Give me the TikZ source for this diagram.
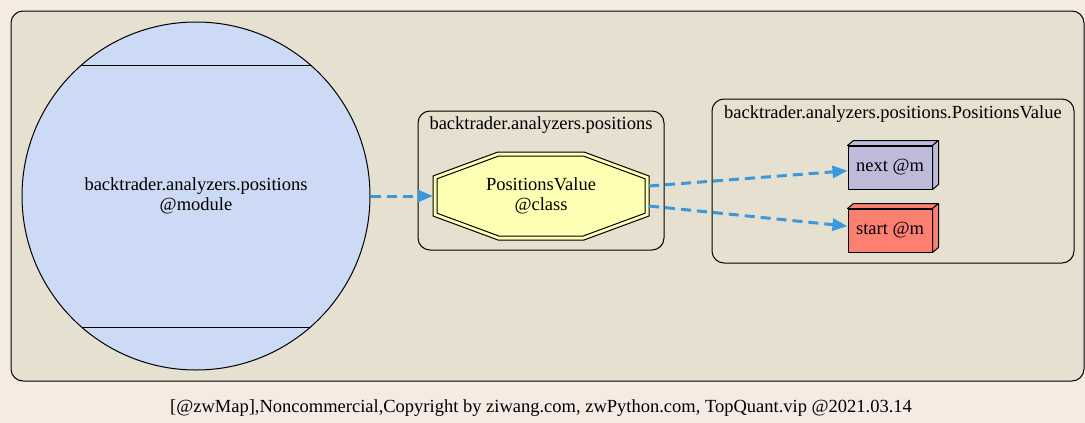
\documentclass[tikz,border=0pt]{standalone}
\usepackage{fontspec}
\setmainfont{Liberation Serif}
\usetikzlibrary{arrows.meta}
\definecolor{pagebg}{HTML}{F6EBE2}
\definecolor{outerfill}{HTML}{E6E0D1}
\definecolor{modfill}{HTML}{CDDAF5}
\definecolor{clsfill}{HTML}{FFFFB3}
\definecolor{nextfill}{HTML}{BEBADA}
\definecolor{startfill}{HTML}{FB8072}
\definecolor{edgeblue}{HTML}{3A98DC}
\begin{document}
\begin{tikzpicture}[x=1pt,y=-1pt,
  every node/.style={font=\fontsize{18.5}{20}\selectfont},
  clusterbox/.style={draw=black, line width=1pt, rounded corners=12pt},
  shapeline/.style={draw=black, line width=1pt},
  methbox/.style={rectangle, shapeline, minimum width=84pt, minimum height=43pt, inner sep=0pt},
  depends/.style={draw=edgeblue, line width=3pt, dash pattern=on 10pt off 6pt,
    -{Triangle[length=15pt,width=12pt]}}]
\useasboundingbox (0,0) rectangle (1085,423);
\fill[pagebg] (0,0) rectangle (1085,423);
\draw[clusterbox, fill=outerfill] (11,11) rectangle (1084,381);
\draw[clusterbox] (418,111) rectangle (664,250);
\node (lab1) at (541,125) {backtrader.analyzers.positions};
\draw[clusterbox] (712,99) rectangle (1074,263);
\node (lab2) at (893,114) {backtrader.analyzers.positions.PositionsValue};

% module circle
\node[circle, shapeline, fill=modfill, minimum size=348pt, inner sep=0pt, align=center] (mod) at (196,196)
  {backtrader.analyzers.positions\\@module};
\draw[shapeline] ([shift={(-114.5pt,131pt)}]mod.center) -- ([shift={(114.5pt,131pt)}]mod.center);
\draw[shapeline] ([shift={(-114.5pt,-131pt)}]mod.center) -- ([shift={(114.5pt,-131pt)}]mod.center);

% class octagon
\begin{scope}[shift={(541,196)}]
\draw[shapeline, fill=clsfill] (-108,-20) -- (-43,-44) -- (43,-44) -- (108,-20) -- (108,20) -- (43,44) -- (-43,44) -- (-108,20) -- cycle;
\draw[shapeline] (-104,-17.2) -- (-42.2,-40) -- (42.2,-40) -- (104,-17.2) -- (104,17.2) -- (42.2,40) -- (-42.2,40) -- (-104,17.2) -- cycle;
\end{scope}
\node[rectangle, minimum width=216pt, minimum height=88pt, inner sep=0pt, align=center] (cls) at (541,196) {PositionsValue\\@class};

% method boxes
\node[methbox, fill=nextfill] (nextbox) at (890,167.5) {next @m};
\node[methbox, fill=startfill] (startbox) at (890,230.5) {start @m};
\foreach \b/\c in {nextbox/nextfill, startbox/startfill}{
  \draw[shapeline, fill=\c, line join=round] (\b.north west) -- ([shift={(6pt,5pt)}]\b.north west) -- ([shift={(6pt,5pt)}]\b.north east) -- (\b.north east) -- cycle;
  \draw[shapeline, fill=\c, line join=round] (\b.north east) -- ([shift={(6pt,5pt)}]\b.north east) -- ([shift={(6pt,5pt)}]\b.south east) -- (\b.south east) -- cycle;
}

% edges
\draw[depends] (mod.east) -- (cls.west);
\draw[depends] ([yshift=10pt]cls.east) -- (nextbox);
\draw[depends] ([yshift=-10pt]cls.east) -- (startbox);

% footer
\node (foot) at (541,408) {[@zwMap],Noncommercial,Copyright by ziwang.com, zwPython.com, TopQuant.vip @2021.03.14};
\end{tikzpicture}
\end{document}
